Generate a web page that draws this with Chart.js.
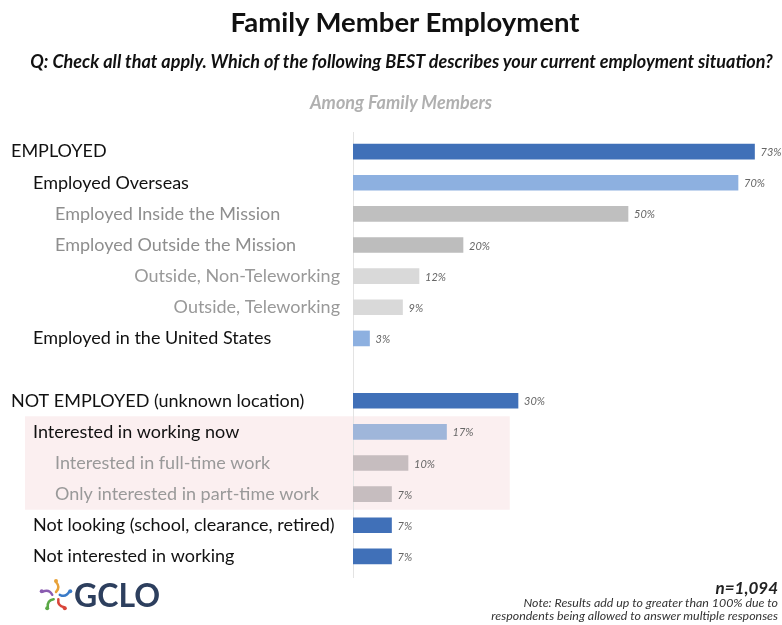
<!DOCTYPE html>
<html>
<head>
<meta charset="utf-8">
<script src="https://cdn.jsdelivr.net/npm/chart.js@4"></script>
<style>
  body { margin: 0; background: #fff; }
  #wrap { position: relative; width: 782px; height: 625px; overflow: hidden; font-family: Lato, "Open Sans", sans-serif; }
  #chart { position: absolute; left: 0; top: 0; }
  .txt { position: absolute; white-space: nowrap; }
  #title { left: 0; width: 810px; top: 5px; text-align: center; font-size: 27.5px; font-weight: bold; color: #111; }
  #question { left: 0; width: 803px; top: 50px; text-align: center; font-size: 18px; font-weight: bold; font-style: italic; color: #111; }
  #among { left: 0; width: 802px; top: 91px; text-align: center; font-size: 18px; font-weight: bold; font-style: italic; color: #b0b0b0; }
  #n { right: 4px; top: 577px; font-size: 17px; font-weight: bold; font-style: italic; color: #222; }
  #note { right: 4px; top: 596px; font-size: 12.4px; font-style: italic; color: #333; text-align: right; line-height: 13px; }
</style>
</head>
<body>
<div id="wrap">
  <canvas id="chart" width="782" height="625"></canvas>
  <div class="txt" id="title">Family Member Employment</div>
  <div class="txt" id="question">Q: Check all that apply. Which of the following BEST describes your current employment situation?</div>
  <div class="txt" id="among">Among Family Members</div>
  <div class="txt" id="n">n=1,094</div>
  <div class="txt" id="note">Note: Results add up to greater than 100% due to<br>respondents being allowed to answer multiple responses</div>
</div>
<script>
// answers, top to bottom (blank row separates the two groups)
const categories = [
    'EMPLOYED',
    'Employed Overseas',
    'Employed Inside the Mission',
    'Employed Outside the Mission',
    'Outside, Non-Teleworking',
    'Outside, Teleworking',
    'Employed in the United States',
    '',
    'NOT EMPLOYED (unknown location)',
    'Interested in working now',
    'Interested in full-time work',
    'Only interested in part-time work',
    'Not looking (school, clearance, retired)',
    'Not interested in working'
];
const percents = [73, 70, 50, 20, 12, 9, 3, null, 30, 17, 10, 7, 7, 7];

// styling per row
const barColors = ['#4070b8', '#8db0e0', '#bfbfbf', '#bdbdbd', '#d9d9d9', '#d9d9d9', '#8db0e0', '#fff',
                   '#4070b8', '#9fb6da', '#c6bdbf', '#c6bdbf', '#4070b8', '#4070b8'];
const labelColors = ['#111', '#111', '#8e8e8e', '#8e8e8e', '#999', '#999', '#111', '#111',
                     '#111', '#111', '#999', '#999', '#111', '#111'];
const labelLevel = [0, 1, 2, 2, 'r', 'r', 1, 0, 0, 1, 2, 2, 1, 1];

const rowLabels = {
    id: 'rowLabels',
    beforeDatasetsDraw(chart) {
        const ctx = chart.ctx;
        const y = chart.scales.y;
        const x = chart.scales.x;
        const band = y.getPixelForValue(1) - y.getPixelForValue(0);
        // pink box behind the "interested" rows
        ctx.save();
        ctx.fillStyle = '#fbeff0';
        const top = y.getPixelForValue(9) - band / 2;
        const bottom = y.getPixelForValue(11) + band / 2;
        ctx.fillRect(25, top, x.getPixelForValue(28.5) - 25, bottom - top);
        // baseline
        ctx.strokeStyle = '#e3e3e3';
        ctx.lineWidth = 1;
        ctx.beginPath();
        ctx.moveTo(x.left + 0.5, chart.chartArea.top - 4);
        ctx.lineTo(x.left + 0.5, chart.chartArea.bottom + 6);
        ctx.stroke();
        ctx.restore();
    },
    afterDatasetsDraw(chart) {
        const ctx = chart.ctx;
        const y = chart.scales.y;
        const x = chart.scales.x;
        ctx.save();
        ctx.textBaseline = 'middle';
        categories.forEach((label, i) => {
            if (!label) return;
            const py = y.getPixelForValue(i);
            ctx.font = '18px Lato';
            ctx.fillStyle = labelColors[i];
            const lvl = labelLevel[i];
            if (lvl === 'r') {
                ctx.textAlign = 'right';
                ctx.fillText(label, x.left - 13, py);
            } else {
                ctx.textAlign = 'left';
                ctx.fillText(label, 11 + lvl * 22, py);
            }
            const v = percents[i];
            if (v != null) {
                ctx.font = 'italic 11px Lato';
                ctx.fillStyle = '#666';
                ctx.textAlign = 'left';
                ctx.fillText(v + '%', x.getPixelForValue(v) + 6, py + 1);
            }
        });
        ctx.restore();
    },
    afterDraw(chart) {
        // GCLO logo
        const ctx = chart.ctx;
        ctx.save();
        const cx = 56, cy = 596;
        const arms = ['#e8a23a', '#3a7bc8', '#d9453a', '#5aa845', '#8a5bb0'];
        arms.forEach((c, k) => {
            const a = -Math.PI / 2 + k * 2 * Math.PI / 5;
            ctx.strokeStyle = c;
            ctx.lineWidth = 2.5;
            ctx.lineCap = 'round';
            ctx.beginPath();
            ctx.moveTo(cx + Math.cos(a) * 4, cy + Math.sin(a) * 4);
            ctx.quadraticCurveTo(cx + Math.cos(a + 0.5) * 10, cy + Math.sin(a + 0.5) * 10,
                                 cx + Math.cos(a) * 14, cy + Math.sin(a) * 14);
            ctx.stroke();
            ctx.fillStyle = c;
            ctx.beginPath();
            ctx.arc(cx + Math.cos(a) * 15, cy + Math.sin(a) * 15, 2, 0, Math.PI * 2);
            ctx.fill();
        });
        ctx.font = 'bold 32px Lato';
        ctx.fillStyle = '#2d3f5e';
        ctx.textAlign = 'left';
        ctx.textBaseline = 'middle';
        ctx.fillText('GCLO', 74, cy + 1);
        ctx.restore();
    }
};

new Chart(document.getElementById('chart'), {
    type: 'bar',
    data: {
        labels: categories,
        datasets: [{
            data: percents,
            backgroundColor: barColors,
            barThickness: 15,
            borderWidth: 0
        }]
    },
    options: {
        indexAxis: 'y',
        responsive: false,
        animation: false,
        layout: { padding: { left: 353, right: 0, top: 136, bottom: 53 } },
        scales: {
            x: { display: false, min: 0, max: 78 },
            y: { display: false }
        },
        plugins: {
            legend: { display: false },
            tooltip: { enabled: false }
        }
    },
    plugins: [rowLabels]
});
</script>
</body>
</html>
